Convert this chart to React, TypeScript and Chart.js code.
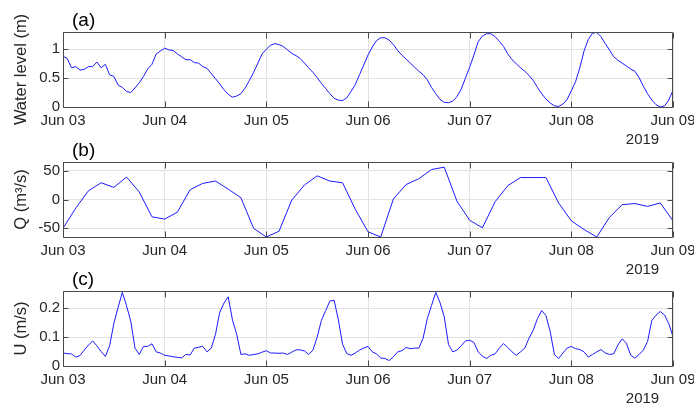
import React, { useEffect, useRef } from "react";
import { Chart, registerables } from "chart.js";

Chart.register(...registerables);

// ---------- data ----------
const dayLabels = ["Jun 03", "Jun 04", "Jun 05", "Jun 06", "Jun 07", "Jun 08", "Jun 09"];
const yearLabel = "2019";

// hourly water level (m), Jun 03 00:00 .. Jun 09 00:00
const waterLevelStepHours = 1;
const waterLevel = [
  0.88, 0.84, 0.68, 0.70, 0.64, 0.65, 0.70, 0.70, 0.78, 0.68,
  0.74, 0.56, 0.53, 0.38, 0.34, 0.27, 0.25, 0.33, 0.42, 0.53,
  0.66, 0.74, 0.92, 0.97, 1.02, 0.99, 0.98, 0.92, 0.87, 0.82,
  0.82, 0.77, 0.76, 0.70, 0.67, 0.58, 0.49, 0.40, 0.30, 0.22,
  0.17, 0.19, 0.23, 0.33, 0.46, 0.60, 0.76, 0.92, 1.00, 1.07,
  1.10, 1.08, 1.05, 0.99, 0.93, 0.89, 0.84, 0.76, 0.68, 0.60,
  0.51, 0.41, 0.32, 0.23, 0.15, 0.12, 0.11, 0.16, 0.27, 0.39,
  0.56, 0.73, 0.90, 1.04, 1.15, 1.20, 1.20, 1.16, 1.08, 0.98,
  0.90, 0.83, 0.76, 0.69, 0.62, 0.56, 0.47, 0.34, 0.23, 0.13,
  0.08, 0.075, 0.10, 0.18, 0.31, 0.50, 0.69, 0.90, 1.13, 1.23,
  1.27, 1.27, 1.22, 1.14, 1.05, 0.92, 0.82, 0.75, 0.68, 0.62,
  0.55, 0.46, 0.34, 0.23, 0.14, 0.07, 0.02, 0.01, 0.05, 0.13,
  0.28, 0.44, 0.68, 0.97, 1.17, 1.28, 1.29, 1.22, 1.10, 0.99,
  0.87, 0.81, 0.76, 0.71, 0.66, 0.62, 0.51, 0.36, 0.23, 0.12,
  0.04, 0.00, 0.02, 0.12, 0.29,
];

// 3-hourly discharge Q (m^3/s)
const dischargeStepHours = 3;
const discharge = [
  -50, -15, 15, 29, 21, 39, 13, -30, -34, -22,
  17, 28, 32, 18, 3, -50, -65, -55, -1, 25,
  41, 32, 29, -17, -56, -65, 1, 26, 36, 52,
  56, -3, -36, -49, -4, 24, 38, 38, 38, -6,
  -37, -52, -65, -31, -9, -7, -12, -6, -37,
];

// hourly velocity U (m/s)
const velocityStepHours = 1;
const velocity = [
  0.045, 0.043, 0.042, 0.031, 0.036, 0.055, 0.072, 0.087, 0.070, 0.050,
  0.033, 0.070, 0.147, 0.203, 0.255, 0.209, 0.155, 0.062, 0.040, 0.068,
  0.068, 0.077, 0.049, 0.045, 0.037, 0.035, 0.032, 0.030, 0.028, 0.040,
  0.038, 0.062, 0.065, 0.068, 0.049, 0.062, 0.110, 0.186, 0.218, 0.240,
  0.160, 0.110, 0.040, 0.042, 0.037, 0.040, 0.042, 0.048, 0.053, 0.045,
  0.045, 0.044, 0.045, 0.040, 0.048, 0.056, 0.056, 0.052, 0.040, 0.055,
  0.100, 0.158, 0.192, 0.225, 0.228, 0.160, 0.075, 0.043, 0.037, 0.045,
  0.055, 0.062, 0.068, 0.049, 0.042, 0.028, 0.026, 0.019, 0.032, 0.049,
  0.053, 0.064, 0.060, 0.062, 0.062, 0.096, 0.164, 0.210, 0.255, 0.220,
  0.170, 0.075, 0.049, 0.055, 0.070, 0.087, 0.089, 0.082, 0.049, 0.034,
  0.026, 0.037, 0.042, 0.062, 0.078, 0.064, 0.049, 0.037, 0.049, 0.062,
  0.096, 0.124, 0.164, 0.192, 0.175, 0.120, 0.040, 0.026, 0.045, 0.062,
  0.068, 0.060, 0.057, 0.049, 0.031, 0.040, 0.049, 0.057, 0.045, 0.040,
  0.042, 0.073, 0.094, 0.079, 0.038, 0.027, 0.040, 0.055, 0.085, 0.158,
  0.176, 0.189, 0.177, 0.147, 0.102,
];

const waterTicks = [0, 0.5, 1];
const dischargeTicks = [-50, 0, 50];
const velocityTicks = [0, 0.1, 0.2];

// ---------- styling ----------
const FONT = "'Liberation Sans', Arial, Helvetica, sans-serif";
const TEXT = "#262626";
const FRAME = "#4a4a4a";
const GRID = "#e2e2e2";
const LINE = "#1a1aff";
const W = 694;
const AREA_LEFT = 63;
const AREA_RIGHT = 673;
const AREA_TOP = 32;
const AREA_BOTTOM = 107;

type PanelProps = {
  top: number;
  height: number;
  label: string;
  yTitle: string;
  values: number[];
  stepHours: number;
  yMin: number;
  yMax: number;
  yTicks: number[];
};

function Panel(props: PanelProps) {
  const ref = useRef<HTMLCanvasElement | null>(null);
  useEffect(() => {
    const canvas = ref.current;
    if (!canvas) return;
    const { height, label, yTitle, values, stepHours, yMin, yMax, yTicks } = props;
    const points = values.map((v, i) => ({ x: (i * stepHours) / 24, y: v }));

    const framePlugin = {
      id: "frame",
      afterDatasetsDraw(chart: any) {
        const { ctx, chartArea } = chart;
        const { left, right, top, bottom } = chartArea;
        const xs = chart.scales.x;
        const ys = chart.scales.y;
        ctx.save();
        ctx.strokeStyle = FRAME;
        ctx.lineWidth = 1;
        const L = Math.round(left) + 0.5;
        const R = Math.round(right) - 0.5;
        const T = Math.round(top) + 0.5;
        const B = Math.round(bottom) + 0.5;
        ctx.beginPath();
        ctx.rect(L, T, R - L, B - T);
        // inward ticks
        dayLabels.forEach((_, i) => {
          const px = Math.round(xs.getPixelForValue(i)) + 0.5;
          ctx.moveTo(px, B);
          ctx.lineTo(px, B - 6);
          ctx.moveTo(px, T);
          ctx.lineTo(px, T + 6);
        });
        yTicks.forEach((v) => {
          const py = Math.round(ys.getPixelForValue(v)) + 0.5;
          ctx.moveTo(L, py);
          ctx.lineTo(L + 5, py);
          ctx.moveTo(R, py);
          ctx.lineTo(R - 5, py);
        });
        ctx.stroke();
        // panel label
        ctx.fillStyle = "#000";
        ctx.font = `19px ${FONT}`;
        ctx.textAlign = "left";
        ctx.textBaseline = "middle";
        ctx.fillText(label, 72, top - 11);
        // year label
        ctx.fillStyle = TEXT;
        ctx.font = `15px ${FONT}`;
        ctx.textAlign = "center";
        ctx.fillText(yearLabel, 642.5, bottom + 33);
        ctx.restore();
      },
    };

    const chart = new Chart(canvas, {
      type: "line",
      data: {
        datasets: [
          {
            data: points,
            borderColor: LINE,
            borderWidth: 1,
            pointRadius: 0,
            tension: 0,
            fill: false,
          },
        ],
      },
      options: {
        responsive: false,
        animation: false,
        events: [],
        layout: { padding: { left: 0, right: W - AREA_RIGHT, top: AREA_TOP, bottom: 0 } },
        plugins: { legend: { display: false }, tooltip: { enabled: false }, title: { display: false } },
        scales: {
          x: {
            type: "linear",
            min: 0,
            max: dayLabels.length - 1,
            afterBuildTicks: (s: any) => {
              s.ticks = dayLabels.map((_, i) => ({ value: i }));
            },
            afterFit: (s: any) => {
              s.height = height - AREA_BOTTOM;
              s.paddingLeft = 0;
              s.paddingRight = 0;
            },
            ticks: {
              autoSkip: false,
              maxRotation: 0,
              minRotation: 0,
              padding: 5,
              color: TEXT,
              font: { family: FONT, size: 15 },
              callback: (_v: any, i: number) => dayLabels[i],
            },
            grid: { color: GRID, lineWidth: 1, drawTicks: false },
            border: { display: false },
          },
          y: {
            type: "linear",
            min: yMin,
            max: yMax,
            afterBuildTicks: (s: any) => {
              s.ticks = yTicks.map((v) => ({ value: v }));
            },
            afterFit: (s: any) => {
              s.width = AREA_LEFT;
              s.paddingTop = 0;
              s.paddingBottom = 0;
            },
            ticks: {
              padding: 3,
              color: TEXT,
              font: { family: FONT, size: 15 },
              callback: (v: any) => String(v),
            },
            grid: { color: GRID, lineWidth: 1, drawTicks: false },
            border: { display: false },
            title: {
              display: true,
              text: yTitle,
              color: TEXT,
              font: { family: FONT, size: 16.5 },
              padding: { top: 12, bottom: 0 },
            },
          },
        },
      },
      plugins: [framePlugin],
    } as any);
    return () => chart.destroy();
  }, []);

  return (
    <canvas
      ref={ref}
      width={W}
      height={props.height}
      style={{ position: "absolute", left: 0, top: props.top, width: W, height: props.height }}
    />
  );
}

export default function App() {
  return (
    <div
      style={{
        position: "fixed",
        left: 0,
        top: 0,
        width: W,
        height: 405,
        background: "#fff",
        overflow: "hidden",
      }}
    >
      <Panel top={0} height={150} label="(a)" yTitle="Water level (m)" values={waterLevel}
        stepHours={waterLevelStepHours} yMin={0} yMax={1.3} yTicks={waterTicks} />
      <Panel top={130} height={150} label="(b)" yTitle="Q (m³/s)" values={discharge}
        stepHours={dischargeStepHours} yMin={-65} yMax={65} yTicks={dischargeTicks} />
      <Panel top={259} height={146} label="(c)" yTitle="U (m/s)" values={velocity}
        stepHours={velocityStepHours} yMin={0} yMax={0.26} yTicks={velocityTicks} />
    </div>
  );
}
